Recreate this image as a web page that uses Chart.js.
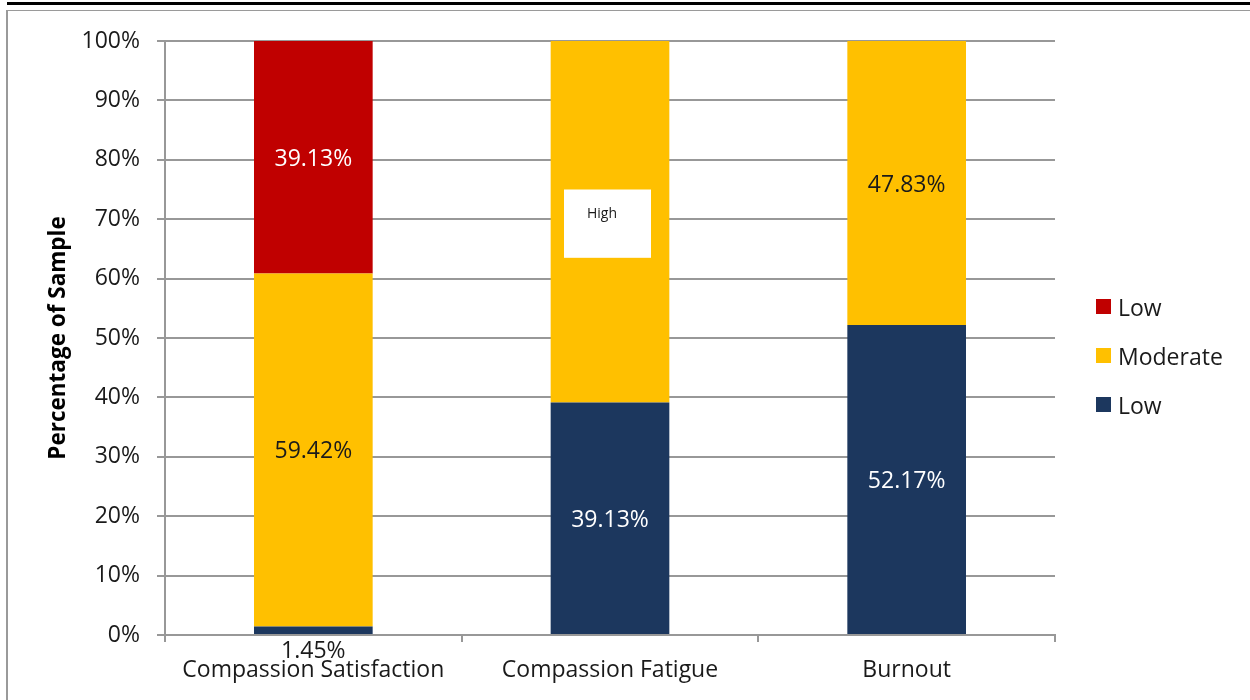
<!DOCTYPE html>
<html>
<head>
<meta charset="utf-8">
<script src="https://cdn.jsdelivr.net/npm/chart.js@4.4.1/dist/chart.umd.min.js"></script>
<style>
  body { margin: 0; background: #fff; font-family: 'Open Sans', sans-serif; }
  #wrap { position: relative; width: 1250px; height: 700px; overflow: hidden; }
  #rule { position: absolute; left: 7px; right: 0; top: 2px; height: 3px; background: #000; }
  #frame { position: absolute; left: 6px; top: 10px; right: -5px; bottom: -5px;
           border-top: 1px solid #9a9a9a; border-left: 2px solid #9a9a9a; }
  canvas { position: absolute; left: 0; top: 0; }
  #legend { position: absolute; left: 1096px; top: 282px; }
  .legend-item { height: 49px; display: flex; align-items: center; font-size: 23px; color: #1a1a1a; }
  .legend-box { width: 15px; height: 15px; margin-right: 7px; }
</style>
</head>
<body>
<div id="wrap">
  <div id="rule"></div>
  <div id="frame"></div>
  <canvas id="chart" width="1250" height="700"></canvas>
  <div id="legend"></div>
</div>
<script>
const categories     = ['Compassion Satisfaction', 'Compassion Fatigue', 'Burnout']
const seriesNames    = ['Low', 'Moderate', 'Low']
const lowValues      = [1.45, 39.13, 52.17]
const moderateValues = [59.42, 60.87, 47.83]
const highValues     = [39.13, 0, 0]
const noteText       = 'High'

const GRID  = '#989898'
const TEXT  = '#1a1a1a'
const FONT  = "'Open Sans', sans-serif"

Chart.defaults.font.family = FONT
Chart.defaults.color = TEXT

const fmtPct = v => v.toFixed(2) + '%'

// value labels centred in each segment; tiny segments get their label under the bar
const valueLabels = {
  id: 'valueLabels',
  afterDatasetsDraw(chart) {
    const ctx = chart.ctx
    ctx.save()
    ctx.font = '23px ' + FONT
    ctx.textAlign = 'center'
    ctx.textBaseline = 'middle'
    chart.data.datasets.forEach((ds, i) => {
      chart.getDatasetMeta(i).data.forEach((bar, j) => {
        const v = ds.data[j]
        if (!v) return
        const h = Math.abs(bar.base - bar.y)
        if (h < 24) {
          ctx.fillStyle = TEXT
          ctx.fillText(fmtPct(v), bar.x, bar.base + 17)
        } else {
          ctx.fillStyle = ds.labelColor
          ctx.fillText(fmtPct(v), bar.x, (bar.y + bar.base) / 2 + 2)
        }
      })
    })
    ctx.restore()
  }
}

// the white text box sitting over the middle bar
const noteBox = {
  id: 'noteBox',
  afterDraw(chart) {
    const ctx = chart.ctx
    const cx = chart.scales.x.getPixelForValue(1)
    const top = chart.scales.y.getPixelForValue(75)
    const bottom = chart.scales.y.getPixelForValue(63.5)
    ctx.save()
    ctx.fillStyle = '#fff'
    ctx.fillRect(cx - 46, top, 87, bottom - top)
    ctx.fillStyle = TEXT
    ctx.font = '14px ' + FONT
    ctx.textAlign = 'center'
    ctx.textBaseline = 'middle'
    ctx.fillText(noteText, cx - 8, top + 25)
    ctx.restore()
  }
}

const chart = new Chart(document.getElementById('chart'), {
  type: 'bar',
  data: {
    labels: categories,
    datasets: [
      { label: seriesNames[0], data: lowValues,      backgroundColor: '#1c375e', labelColor: '#ffffff' },
      { label: seriesNames[1], data: moderateValues, backgroundColor: '#ffc000', labelColor: TEXT },
      { label: seriesNames[2], data: highValues,     backgroundColor: '#c00000', labelColor: '#ffffff' },
    ]
  },
  options: {
    responsive: false,
    animation: false,
    barPercentage: 0.4,
    categoryPercentage: 1,
    layout: { padding: { top: 41, right: 195, bottom: 0, left: 0 } },
    scales: {
      x: {
        stacked: true,
        afterFit: s => { s.height = 65 },
        grid: { drawOnChartArea: false, drawTicks: true, tickLength: 7, offset: true, color: GRID, lineWidth: 2 },
        border: { color: GRID, width: 2 },
        ticks: { font: { size: 23 }, padding: 15, color: TEXT }
      },
      y: {
        stacked: true,
        min: 0, max: 100,
        afterFit: s => { s.width = 165 },
        grid: { color: GRID, lineWidth: 2, tickLength: 8 },
        border: { color: GRID, width: 2 },
        ticks: { stepSize: 10, font: { size: 23 }, padding: 17, color: TEXT, callback: v => v + '%' },
        title: { display: true, text: 'Percentage of Sample', font: { size: 22.5, weight: 'bold' }, color: '#000', padding: { top: 45, bottom: 0 } }
      }
    },
    plugins: { legend: { display: false }, tooltip: { enabled: false } }
  },
  plugins: [valueLabels, noteBox]
})

// legend, highest series first
const legendEl = document.getElementById('legend')
legendEl.innerHTML = chart.data.datasets.slice().reverse().map(ds => `
  <div class="legend-item"><span class="legend-box" style="background:${ds.backgroundColor}"></span>${ds.label}</div>
`).join('')
</script>
</body>
</html>
